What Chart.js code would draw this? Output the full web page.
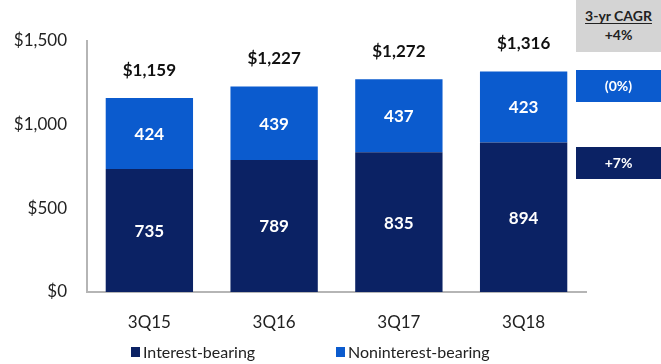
<!DOCTYPE html>
<html>
<head>
<meta charset="utf-8">
<title>Deposits</title>
<script src="https://cdn.jsdelivr.net/npm/chart.js"></script>
<style>
  html, body { margin: 0; padding: 0; background: #fff; }
  .wrap { position: relative; width: 661px; height: 364px; overflow: hidden; font-family: Lato, 'Open Sans', sans-serif; }
  canvas { position: absolute; left: 0; top: 0; }
  .cagr { position: absolute; left: 576px; width: 85px; text-align: center; font-weight: bold; }
  .cagr.head { top: 0; height: 52px; background: #d4d4d4; color: #222; font-size: 14px; line-height: 19px; padding-top: 6px; box-sizing: border-box; }
  .cagr.head u { text-underline-offset: 2px; }
  .cagr.box { height: 32px; line-height: 32px; color: #fff; font-size: 14px; }
</style>
</head>
<body>
<div class="wrap">
  <canvas id="depositChart" width="661" height="364"></canvas>
  <div class="cagr head"><u>3-yr CAGR</u><br><span id="cagrTotal"></span></div>
  <div class="cagr box" id="cagrNonInt" style="top:70px;background:#0b5bce"></div>
  <div class="cagr box" id="cagrInt" style="top:147px;background:#0b2264"></div>
</div>
<script>
const quarters = ['3Q15', '3Q16', '3Q17', '3Q18'];
const interestBearing = [735, 789, 835, 894];
const nonInterestBearing = [424, 439, 437, 423];
const totals = [1159, 1227, 1272, 1316];
const yTicks = [0, 500, 1000, 1500];
const cagrTotal = '+4%';
const cagrNonInt = '(0%)';
const cagrInt = '+7%';

const DARK = '#0b2264';
const LIGHT = '#0b5bce';
const FONT = "Lato, 'Open Sans', sans-serif";

document.getElementById('cagrTotal').textContent = cagrTotal;
document.getElementById('cagrNonInt').textContent = cagrNonInt;
document.getElementById('cagrInt').textContent = cagrInt;

// value labels inside segments + totals on top, legend at the bottom
const labelsPlugin = {
  id: 'labels',
  afterDatasetsDraw(chart) {
    const ctx = chart.ctx;
    ctx.save();
    ctx.textAlign = 'center';
    ctx.textBaseline = 'middle';
    chart.data.datasets.forEach((ds, di) => {
      chart.getDatasetMeta(di).data.forEach((bar, i) => {
        const mid = (bar.y + bar.base) / 2;
        ctx.fillStyle = '#fff';
        ctx.font = 'bold 17px ' + FONT;
        ctx.fillText(String(ds.data[i]), bar.x, mid + 1);
      });
    });
    const top = chart.getDatasetMeta(1).data;
    top.forEach((bar, i) => {
      ctx.fillStyle = '#111';
      ctx.font = 'bold 17px ' + FONT;
      ctx.fillText('$' + totals[i].toLocaleString('en-US'), bar.x, bar.y - 28);
    });

    // legend
    const items = [
      { text: 'Interest-bearing', color: DARK, x: 131 },
      { text: 'Noninterest-bearing', color: LIGHT, x: 336 }
    ];
    ctx.textAlign = 'left';
    ctx.font = '16px ' + FONT;
    items.forEach(it => {
      ctx.fillStyle = it.color;
      ctx.fillRect(it.x, 347, 9, 10);
      ctx.fillStyle = '#222';
      ctx.fillText(it.text, it.x + 12, 353);
    });
    ctx.restore();
  }
};

new Chart(document.getElementById('depositChart'), {
  type: 'bar',
  data: {
    labels: quarters,
    datasets: [
      { label: 'Interest-bearing', data: interestBearing, backgroundColor: DARK },
      { label: 'Noninterest-bearing', data: nonInterestBearing, backgroundColor: LIGHT }
    ]
  },
  options: {
    responsive: false,
    animation: false,
    layout: { padding: { top: 41, right: 75, bottom: 0, left: 0 } },
    plugins: { legend: { display: false }, tooltip: { enabled: false } },
    datasets: { bar: { categoryPercentage: 1, barPercentage: 0.7 } },
    scales: {
      x: {
        stacked: true,
        grid: { display: false, drawTicks: false },
        border: { color: '#b5b5b5', width: 2 },
        ticks: { color: '#222', font: { family: FONT, size: 17 }, padding: 20 },
        afterFit(s) { s.height = 72; }
      },
      y: {
        stacked: true,
        min: 0,
        max: 1500,
        afterBuildTicks(s) { s.ticks = yTicks.map(v => ({ value: v })); },
        grid: { display: false, drawTicks: false },
        border: { color: '#b5b5b5', width: 2 },
        ticks: {
          color: '#222',
          font: { family: FONT, size: 17 },
          padding: 20,
          callback: v => '$' + v.toLocaleString('en-US')
        },
        afterFit(s) { s.width = 87; }
      }
    }
  },
  plugins: [labelsPlugin]
});
</script>
</body>
</html>
